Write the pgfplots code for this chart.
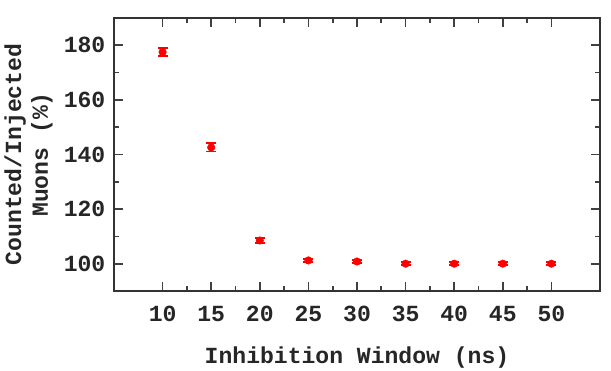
\documentclass[border=0pt]{standalone}
\usepackage{pgfplots}
\pgfplotsset{compat=1.18}
\usepackage{fontspec}
\setmainfont{Liberation Mono}
\begin{document}
\begin{tikzpicture}
\begin{axis}[
  scale only axis,
  width=364.5pt, height=204.75pt,
  xmin=5, xmax=55, ymin=90, ymax=190,
  xtick={10,15,...,50}, ytick={100,120,...,180},
  minor x tick num=1, minor y tick num=1,
  xtick pos=both, ytick pos=both,
  tick align=inside,
  major tick length=7pt, minor tick length=4pt,
  axis line style={line width=1pt, black!80},
  major tick style={line width=1.3pt, black!75},
  minor tick style={line width=1.3pt, black!75},
  /pgf/number format/assume math mode=true,
  tick label style={font=\fontsize{17.3}{20}\selectfont\bfseries, black!85},
  xticklabel style={yshift=-8pt},
  yticklabel style={xshift=-3pt},
  label style={font=\fontsize{17.3}{20}\selectfont\bfseries, black!85},
  xlabel={Inhibition Window (ns)},
  ylabel={Counted/Injected\\Muons (\%)},
  ylabel style={align=center, yshift=1.5pt},
  xlabel style={yshift=-12pt},
  clip=false,
]
\addplot+[only marks, red, mark=*, mark size=2.8pt,
  mark options={fill=red, draw=red},
  error bars/.cd, y dir=both, y explicit,
  error bar style={line width=1.3pt, red},
  error mark options={rotate=90, mark size=3.8pt, line width=1.3pt, red}]
  coordinates {
  (10,177.5) +- (0,1.5)
  (15,142.6) +- (0,1.5)
  (20,108.5) +- (0,1.0)
  (25,101.2) +- (0,0.6)
  (30,100.8) +- (0,0.6)
  (35,100.0) +- (0,0.5)
  (40,100.0) +- (0,0.5)
  (45,100.0) +- (0,0.5)
  (50,100.0) +- (0,0.5)
  };
\end{axis}
\pgfresetboundingbox
\path (current axis.south west) ++(-85.5pt,-59.25pt) coordinate (bbA);
\path (current axis.north east) ++(8.25pt,13.5pt) coordinate (bbB);
\useasboundingbox (bbA) rectangle (bbB);
\end{tikzpicture}
\end{document}
